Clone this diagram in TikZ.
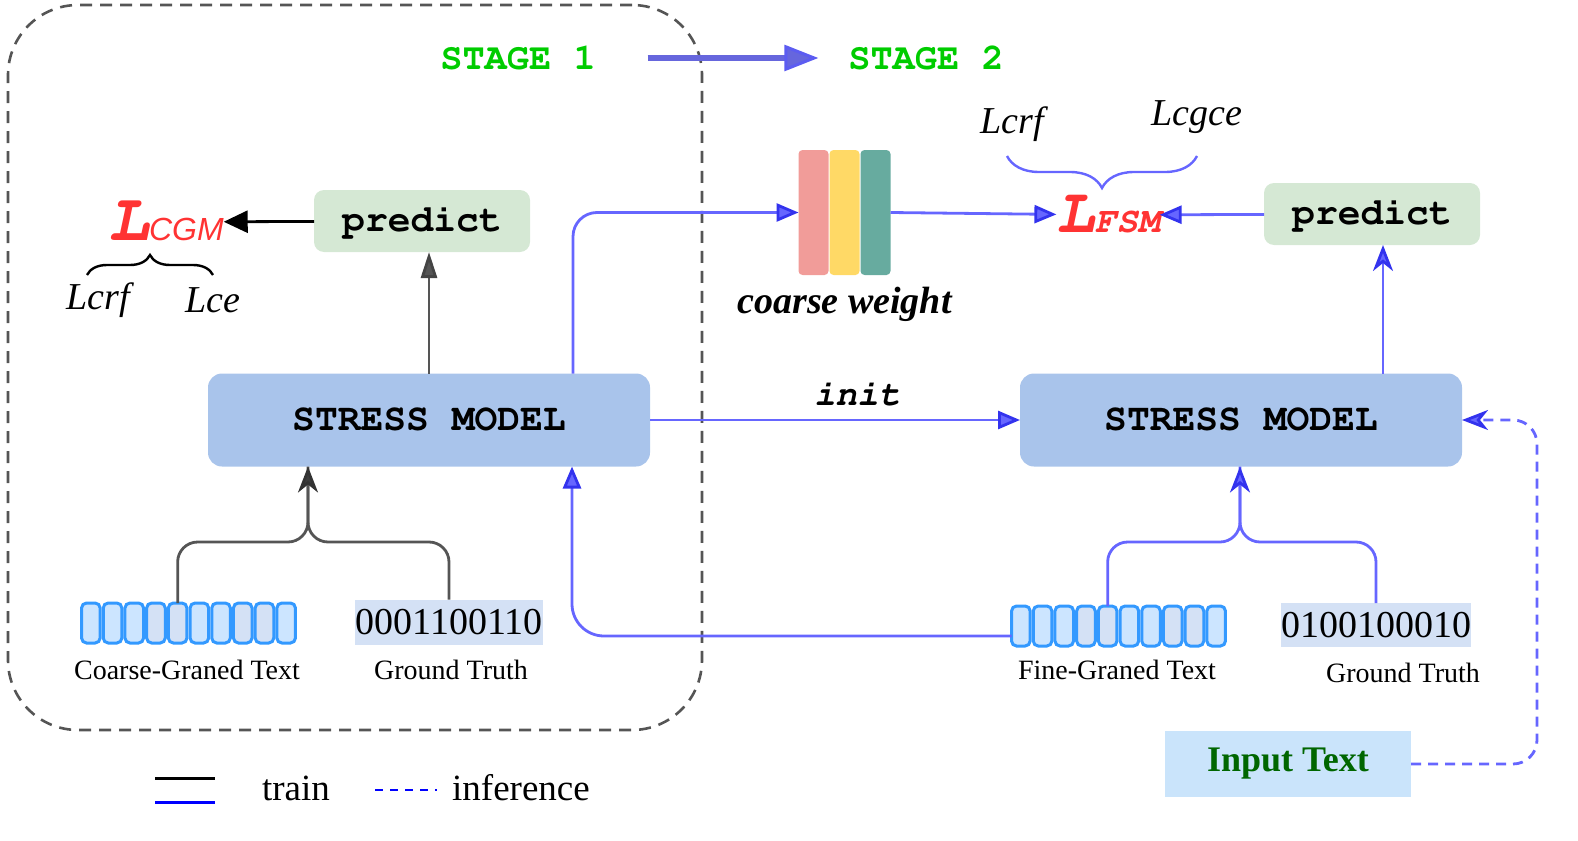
\documentclass[tikz,border=0pt]{standalone}
\usepackage[T1]{fontenc}
\usepackage{fontspec}
\setmainfont{Liberation Serif}
\newfontfamily\sansfam{Liberation Sans}
\usetikzlibrary{positioning,arrows.meta,calc,decorations.pathreplacing}

\newcommand\courb{\fontencoding{T1}\fontfamily{pcr}\fontseries{b}\fontshape{n}\selectfont}
\newcommand\courbi{\fontencoding{T1}\fontfamily{pcr}\fontseries{b}\fontshape{sl}\selectfont}

\definecolor{modelblue}{HTML}{A9C4EB}
\definecolor{predgreen}{HTML}{D5E8D4}
\definecolor{lineblue}{HTML}{6666FF}
\definecolor{tipblue}{HTML}{3333EE}
\definecolor{stageblue}{HTML}{6666DD}
\definecolor{stagegreen}{HTML}{00CC00}
\definecolor{lossred}{HTML}{FF3333}
\definecolor{tokfill}{HTML}{CCE5FF}
\definecolor{tokgray}{HTML}{D4E1F5}
\definecolor{tokedge}{HTML}{3399FF}
\definecolor{cwred}{HTML}{F19C99}
\definecolor{cwyellow}{HTML}{FFD966}
\definecolor{cwteal}{HTML}{67AB9F}
\definecolor{inputbox}{HTML}{CAE4FB}
\definecolor{inputgreen}{HTML}{006600}
\definecolor{darkgray}{HTML}{555555}

\begin{document}
\begin{tikzpicture}
    [x=0.5pt,y=-0.5pt,
     every node/.style={inner sep=0pt,outer sep=0pt},
     model/.style={fill=modelblue,rounded corners=7pt,minimum width=221pt,minimum height=46.5pt,
       font=\courb\fontsize{19}{22}\selectfont},
     predbox/.style={fill=predgreen,rounded corners=5pt,minimum width=108pt,minimum height=31pt,
       font=\courb\fontsize{19}{22}\selectfont},
     stagetext/.style={text=stagegreen,font=\courb\fontsize{18.5}{22}\selectfont},
     bar/.style={rounded corners=2pt,minimum width=15pt,minimum height=62.5pt},
     tok/.style={draw=tokedge,line width=1.5pt,rounded corners=2.5pt,minimum width=9.3pt,minimum height=20pt},
     gtbox/.style={fill=tokgray,minimum width=94pt,minimum height=22.5pt,font=\fontsize{19}{22}\selectfont},
     label/.style={font=\fontsize{14}{16}\selectfont},
     lossterm/.style={font=\itshape\fontsize{19}{22}\selectfont},
     bluearrow/.style={draw=lineblue,line width=1.4pt,-{Triangle[length=11pt,width=9pt,color=tipblue,fill=lineblue]}},
     bluestealth/.style={draw=lineblue,line width=1.4pt,-{Stealth[length=13pt,width=10pt,inset=4pt,color=tipblue,fill=lineblue]}},
     grayline/.style={draw=darkgray,line width=1.4pt},
     brace/.style={decorate,decoration={brace,amplitude=#1},line width=1.2pt}]

    \useasboundingbox (0,0) rectangle (1578,840);

    % stage 1 frame
    \node[draw=darkgray,line width=1.3pt,dash pattern=on 6pt off 4pt,rounded corners=35pt,
      minimum width=347pt,minimum height=362.5pt] (frame1) at (355,367.5) {};

    \node[stagetext] (st1) at (518,58) {STAGE 1};
    \node[stagetext] (st2) at (926,58) {STAGE 2};
    \draw[draw=stageblue,line width=3pt,-{Triangle[length=17pt,width=13pt,color=tipblue!80,fill=stageblue,line width=1.5pt]}]
      ([xshift=26pt]st1.east) -- ([xshift=-15pt]st2.west);

    % stage 1
    \node[model] (m1) at (429,420) {STRESS MODEL};
    \node[predbox] (pred1) at (422,221) {predict};
    \node[text=lossred] (lcgm) at (166,222) {{\courbi\fontsize{34}{36}\selectfont L}{\sansfam\itshape\fontsize{16}{18}\selectfont CGM}};
    \node[lossterm] (lcrf1) at (98,300) {Lcrf};
    \node[lossterm] (lce) at (213,300) {Lce};
    \draw[brace=10pt] (87,275) -- (213,275);

    \draw[line width=1.4pt,-{Triangle[length=12pt,width=11pt]}] (pred1) -- (lcgm);
    \draw[grayline,-{Triangle[length=13pt,width=8pt,color=darkgray!80!black,fill=darkgray]}]
      (m1.north) -- (m1.north |- pred1.south);

    \foreach \f [count=\i] in {tokfill,tokfill,tokfill,tokgray,tokgray,tokfill,tokfill,tokgray,tokgray,tokfill}
      \node[tok,fill=\f] (ct\i) at ({80+21.7*(\i-0.5)},623) {};
    \node[gtbox] (gt1) at (449,622) {0001100110};
    \node[label] (ctlab) at (187,670) {Coarse-Graned Text};
    \node[label] (gt1lab) at (451,670) {Ground Truth};

    \coordinate (j1) at (308,542);
    \draw[grayline,rounded corners=10pt] (ct5.north) |- (j1) -- (j1 |- m1.south);
    \draw[grayline,rounded corners=10pt,-{Stealth[length=13pt,width=10pt,inset=4pt,color=black!80,fill=darkgray!70!black]}]
      (gt1.north) |- (j1) -- (j1 |- m1.south);

    % coarse weight
    \node[bar,fill=cwyellow] (cwY) at (844.5,212.5) {};
    \node[bar,fill=cwred,left=0.5pt of cwY] (cwR) {};
    \node[bar,fill=cwteal,right=0.5pt of cwY] (cwG) {};
    \node[font=\bfseries\itshape\fontsize{19}{22}\selectfont,below=6pt of cwY] (cwlab) {coarse weight};

    \draw[bluearrow,rounded corners=12pt] ($(m1.north east)+(-77,0)$) |- (cwR.west);

    % stage 2
    \node[model] (m2) at (1241,420) {STRESS MODEL};
    \node[predbox] (pred2) at (1372,214) {predict};
    \node[text=lossred] (lfsm) at (1108,215) {{\courbi\fontsize{32}{34}\selectfont L}{\courbi\fontsize{18}{20}\selectfont FSM}};
    \node[lossterm] (lcrf2) at (1012,124) {Lcrf};
    \node[lossterm] (lcgce) at (1197,117) {Lcgce};
    \draw[brace=16pt,draw=lineblue] (1197,156) -- (1007,156);

    \draw[bluearrow] (cwG.east) -- (lfsm);
    \draw[bluearrow] (pred2) -- (lfsm);
    \draw[bluearrow] (m1) -- (m2) node[pos=0.56,above=7pt,font=\courbi\fontsize{18}{20}\selectfont] (initlab) {init};
    \draw[bluestealth] ($(m2.north east)+(-79,0)$) coordinate (p2a) -- (p2a |- pred2.south);

    \foreach \f [count=\i] in {tokfill,tokfill,tokfill,tokgray,tokgray,tokfill,tokfill,tokgray,tokgray,tokfill}
      \node[tok,fill=\f] (ft\i) at ({1010+21.7*(\i-0.5)},626) {};
    \node[gtbox,minimum height=22pt] (gt2) at (1376,625) {0100100010};
    \node[label] (ftlab) at (1117,670) {Fine-Graned Text};
    \node[label] (gt2lab) at (1403,673) {Ground Truth};

    \coordinate (j2) at (1240,542);
    \draw[draw=lineblue,line width=1.4pt,rounded corners=10pt] (ft5.north) |- (j2) -- (j2 |- m2.south);
    \draw[bluestealth,rounded corners=10pt] (gt2.north) |- (j2) -- (j2 |- m2.south);

    \draw[bluearrow,rounded corners=16pt] ([yshift=-5pt]ft1.west) -| ($(m1.south east)+(-78,0)$);

    % inference
    \node[fill=inputbox,minimum width=123pt,minimum height=33pt,text=inputgreen,
      font=\bfseries\fontsize{18}{20}\selectfont] (inp) at (1288,764) {Input Text};
    \draw[bluestealth,dash pattern=on 5pt off 3.5pt,rounded corners=12pt]
      (inp.east) -- ++(126,0) |- (m2.east);

    % legend
    \coordinate (lga) at (155,778);
    \coordinate (lgb) at (215,778);
    \coordinate (lgc) at (155,802);
    \coordinate (lgd) at (215,802);
    \coordinate (lge) at (375,790);
    \coordinate (lgf) at (437,790);
    \draw[line width=1.5pt] (lga) -- (lgb);
    \draw[blue,line width=1.5pt] (lgc) -- (lgd);
    \draw[blue,line width=1.4pt,dash pattern=on 4pt off 3.5pt] (lge) -- (lgf);
    \node[font=\fontsize{18.5}{20}\selectfont] (train) at (296,788) {train};
    \node[font=\fontsize{18.5}{20}\selectfont] (infer) at (521,788) {inference};

  \end{tikzpicture}
\end{document}
